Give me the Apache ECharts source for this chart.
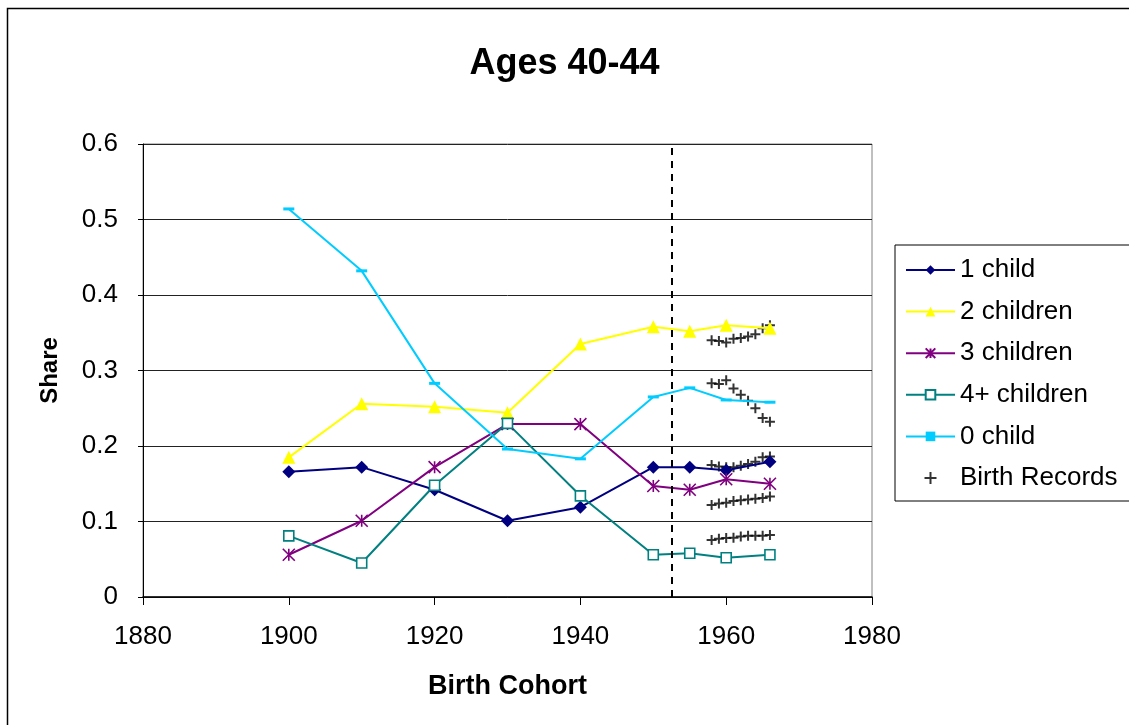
<!DOCTYPE html>
<html>
<head>
<meta charset="utf-8">
<title>Ages 40-44</title>
<script src="https://cdn.jsdelivr.net/npm/echarts@6/dist/echarts.min.js"></script>
<style>
  html, body { margin: 0; padding: 0; background: #fff; }
  #chart { width: 1129px; height: 725px; }
</style>
</head>
<body>
<div id="chart"></div>
<script>
// birth cohorts (x) and shares for each parity
const cohorts = [1900, 1910, 1920, 1930, 1940, 1950, 1955, 1960, 1966]
const oneChild = [0.166, 0.172, 0.142, 0.101, 0.119, 0.172, 0.172, 0.168, 0.179]
const twoChildren = [0.185, 0.256, 0.252, 0.244, 0.335, 0.358, 0.352, 0.360, 0.356]
const threeChildren = [0.056, 0.101, 0.172, 0.229, 0.229, 0.147, 0.142, 0.156, 0.150]
const fourPlus = [0.081, 0.045, 0.148, 0.230, 0.134, 0.056, 0.058, 0.052, 0.056]
const zeroChild = [0.514, 0.432, 0.283, 0.196, 0.183, 0.265, 0.277, 0.261, 0.258]

// birth records, one point per year
const birthYears = [1958, 1959, 1960, 1961, 1962, 1963, 1964, 1965, 1966]
const brTwo = [0.340, 0.339, 0.337, 0.342, 0.343, 0.345, 0.348, 0.356, 0.360]
const brZero = [0.283, 0.282, 0.287, 0.276, 0.268, 0.260, 0.250, 0.237, 0.232]
const brOne = [0.175, 0.173, 0.172, 0.172, 0.174, 0.176, 0.179, 0.185, 0.186]
const brThree = [0.122, 0.124, 0.125, 0.127, 0.128, 0.129, 0.130, 0.131, 0.133]
const brFour = [0.0755, 0.077, 0.078, 0.0785, 0.080, 0.081, 0.081, 0.081, 0.082]

const cutoffYear = 1952.5
const yTicks = ['0', '0.1', '0.2', '0.3', '0.4', '0.5', '0.6']

const FONT = '"Liberation Sans", Arial, sans-serif'
const pairs = (xs, ys) => xs.map((x, i) => [x, ys[i]])

const starPath = 'path://M0,0L10,10M10,0L0,10M5,0L5,10'
const plusPath = 'path://M5,0L5,10M0,5L10,5'

const chart = echarts.init(document.getElementById('chart'))

function lineSeries(name, data, color, symbol, symbolSize, extra) {
  return Object.assign({
    name,
    type: 'line',
    data: pairs(cohorts, data),
    symbol,
    symbolSize,
    showAllSymbol: true,
    lineStyle: { color, width: 2 },
    itemStyle: { color },
    emphasis: { disabled: true },
    animation: false
  }, extra || {})
}

const birthData = []
;[brTwo, brZero, brOne, brThree, brFour].forEach(arr => {
  pairs(birthYears, arr).forEach(p => birthData.push(p))
})

chart.setOption({
  backgroundColor: '#fff',
  textStyle: { fontFamily: FONT },
  title: {
    text: 'Ages 40-44',
    left: 'center',
    top: 41,
    textStyle: { fontSize: 36, fontWeight: 'bold', color: '#000', fontFamily: FONT }
  },
  graphic: [{
    type: 'rect',
    shape: { x: 7.5, y: 8.5, width: 1200, height: 800 },
    style: { fill: 'none', stroke: '#000', lineWidth: 1.5 },
    silent: true
  }],
  legend: {
    orient: 'vertical',
    left: 895,
    top: 245,
    padding: [12, 30, 10, 10],
    itemWidth: 49,
    itemHeight: 12,
    itemGap: 15.6,
    borderColor: '#000',
    borderWidth: 1,
    textStyle: { fontSize: 26, color: '#000', fontFamily: FONT, lineHeight: 26 },
    data: ['1 child', '2 children', '3 children', '4+ children', '0 child', 'Birth Records']
  },
  grid: {
    left: 143, top: 144, width: 729, height: 453,
    show: true, borderColor: '#808080', borderWidth: 1, backgroundColor: '#fff'
  },
  xAxis: {
    type: 'value',
    min: 1880, max: 1980, interval: 20,
    name: 'Birth Cohort',
    nameLocation: 'middle',
    nameGap: 76,
    nameTextStyle: { fontSize: 27, fontWeight: 'bold', color: '#000', fontFamily: FONT },
    axisLine: { lineStyle: { color: '#000', width: 1.5 } },
    axisTick: { show: true, length: 8, lineStyle: { color: '#000' } },
    axisLabel: {
      fontSize: 26, color: '#000', margin: 27, fontFamily: FONT,
      formatter: (v) => String(v)
    },
    splitLine: { show: false }
  },
  yAxis: {
    type: 'value',
    min: 0, max: 0.6, interval: 0.1,
    name: 'Share',
    nameLocation: 'middle',
    nameRotate: 90,
    nameGap: 81,
    nameTextStyle: { fontSize: 24, fontWeight: 'bold', color: '#000', fontFamily: FONT },
    axisLine: { show: true, lineStyle: { color: '#000', width: 1 } },
    axisTick: { show: true, length: 5, lineStyle: { color: '#000' } },
    axisLabel: {
      fontSize: 26, color: '#000', margin: 25, fontFamily: FONT,
      formatter: (v) => yTicks[Math.round(v * 10)]
    },
    splitLine: { show: true, lineStyle: { color: '#222', width: 1 } }
  },
  series: [
    lineSeries('1 child', oneChild, '#000080', 'diamond', 13, {
      markLine: {
        silent: true,
        symbol: 'none',
        label: { show: false },
        lineStyle: { color: '#000', type: [7, 6], width: 2 },
        data: [{ xAxis: cutoffYear }]
      }
    }),
    lineSeries('2 children', twoChildren, '#FFFF00', 'triangle', 13),
    lineSeries('3 children', threeChildren, '#800080', starPath, 12, {
      itemStyle: { color: 'transparent', borderColor: '#800080', borderWidth: 1.6 }
    }),
    lineSeries('4+ children', fourPlus, '#008080', 'rect', 10, {
      itemStyle: { color: '#fff', borderColor: '#008080', borderWidth: 1.6 }
    }),
    lineSeries('0 child', zeroChild, '#00CCFF', 'rect', [11, 3]),
    {
      name: 'Birth Records',
      type: 'scatter',
      data: birthData,
      symbol: plusPath,
      symbolSize: 10,
      itemStyle: { color: 'transparent', borderColor: '#000', borderWidth: 2 },
      emphasis: { disabled: true },
      animation: false
    }
  ]
})
</script>
</body>
</html>
